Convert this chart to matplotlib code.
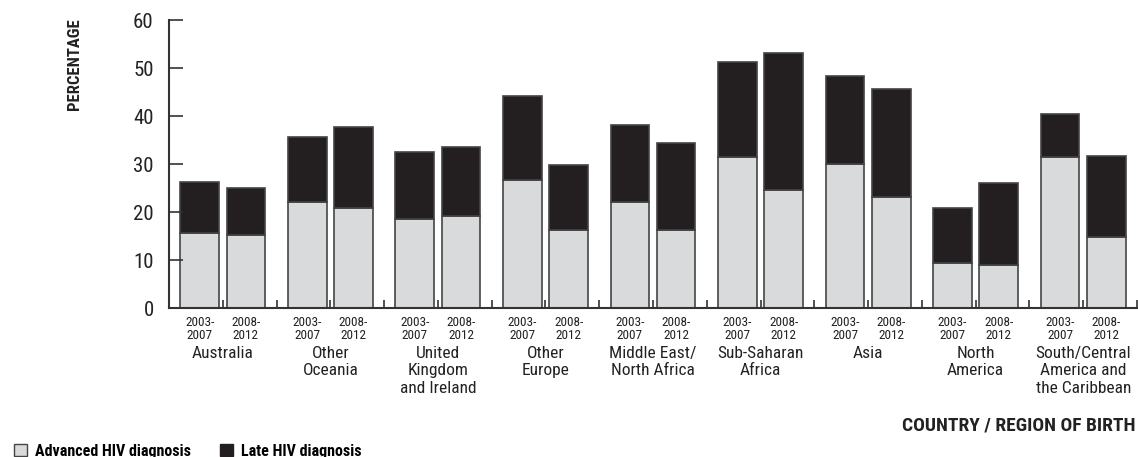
import numpy as np
import matplotlib
matplotlib.use("Agg")
import matplotlib.pyplot as plt
from matplotlib.patches import Patch
import matplotlib.transforms as mtransforms

plt.rcParams['font.family'] = ['Roboto Condensed', 'Arial Narrow', 'Liberation Sans Narrow', 'Roboto', 'DejaVu Sans']

# data
regions = ['Australia', 'Other\nOceania', 'United\nKingdom\nand Ireland', 'Other\nEurope',
           'Middle East/\nNorth Africa', 'Sub-Saharan\nAfrica', 'Asia', 'North\nAmerica',
           'South/Central\nAmerica and\nthe Caribbean']
periods = ['2003-\n2007', '2008-\n2012']
# advanced HIV diagnosis (lower segment)
advanced_0307 = [15.6, 22.0, 18.5, 26.7, 22.1, 31.5, 30.0, 9.4, 31.5]
advanced_0812 = [15.3, 20.9, 19.2, 16.3, 16.3, 24.6, 23.1, 9.0, 14.8]
# late HIV diagnosis (total bar height)
late_0307 = [26.2, 35.7, 32.4, 44.2, 38.1, 51.3, 48.3, 20.9, 40.4]
late_0812 = [25.1, 37.8, 33.5, 29.7, 34.4, 53.1, 45.6, 26.0, 31.6]

light = '#d9dadc'
dark = '#231f20'
edge = '#444444'

fig = plt.figure(figsize=(11.38, 4.57), dpi=100)
ax = fig.add_axes([169 / 1138, 149 / 457, 968 / 1138, 288 / 457])

x = np.arange(len(regions))
off = 0.215
w = 0.36
for pos, adv, late in [(x - off, advanced_0307, late_0307), (x + off, advanced_0812, late_0812)]:
    adv = np.array(adv)
    late = np.array(late)
    ax.bar(pos, adv, w, color=light, edgecolor=edge, linewidth=1.2)
    ax.bar(pos, late - adv, w, bottom=adv, color=dark, edgecolor=edge, linewidth=1.2)

ax.set_xlim(-0.5, len(regions) - 0.5)
ax.set_ylim(0, 60)
ax.set_yticks(range(0, 61, 10))
ax.tick_params(axis='y', direction='in', length=10, width=1.2, pad=11, labelsize=15,
               color='#333333', labelcolor='#222222')

pos_all = np.sort(np.concatenate([x - off, x + off]))
ax.set_xticks(pos_all)
ax.set_xticklabels(periods * len(regions), fontsize=9.5, linespacing=1.0, color='#222222')
ax.tick_params(axis='x', which='major', length=0, pad=6)
ax.set_xticks(np.arange(-0.5, len(regions), 0.5), minor=True)
ax.tick_params(axis='x', which='minor', direction='in', length=6, width=1.2, color='#333333')

for s in ['top', 'right']:
    ax.spines[s].set_visible(False)
for s in ['left', 'bottom']:
    ax.spines[s].set_color('#333333')
    ax.spines[s].set_linewidth(1.5)

trans = mtransforms.blended_transform_factory(ax.transData, ax.transAxes)
for i, name in enumerate(regions):
    ax.text(i, -38 / 288, name, transform=trans, ha='center', va='top',
            fontsize=12.5, linespacing=1.2, color='#222222')

fig.text(74 / 1138, 1 - 18 / 457, 'PERCENTAGE', rotation=90, ha='center', va='top',
         fontsize=12, fontweight='bold', color='#222222')
fig.text(1136 / 1138, 1 - 425 / 457, 'COUNTRY / REGION OF BIRTH', ha='right', va='center',
         fontsize=14, fontweight='bold', color='#222222')

handles = [Patch(facecolor=light, edgecolor=edge, label='Advanced HIV diagnosis'),
           Patch(facecolor=dark, edgecolor=dark, label='Late HIV diagnosis')]
fig.legend(handles=handles, loc='lower left', bbox_to_anchor=(0.0, -0.035), ncol=2,
           frameon=False, handlelength=0.8, handleheight=0.8, handletextpad=0.5,
           columnspacing=1.8, prop={'weight': 'bold', 'size': 11.5})

fig.savefig('out.png', dpi=100)
